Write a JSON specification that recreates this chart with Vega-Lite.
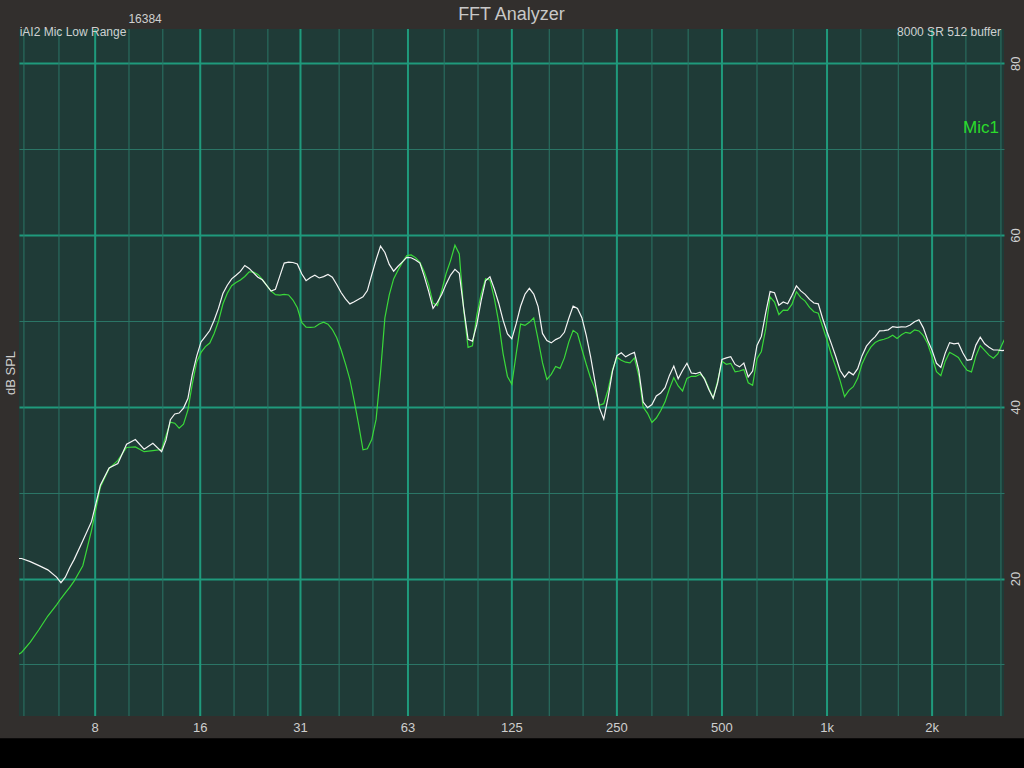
{
  "$schema": "https://vega.github.io/schema/vega-lite/v6.json",
  "width": 985,
  "height": 687,
  "autosize": "none",
  "padding": {"left": 19, "top": 29, "right": 20, "bottom": 52},
  "background": "#322f2d",
  "config": {
    "font": "Liberation Sans",
    "view": {"fill": "#1f3b37", "stroke": null}
  },
  "datasets": {
    "minorGrid": [
      {"f": 5}, {"f": 6.3}, {"f": 10}, {"f": 12.5}, {"f": 20}, {"f": 25}, {"f": 40}, {"f": 50},
      {"f": 80}, {"f": 100}, {"f": 160}, {"f": 200}, {"f": 315}, {"f": 400}, {"f": 630}, {"f": 800},
      {"f": 1250}, {"f": 1600}, {"f": 2500}, {"f": 3150}
    ],
    "majorGrid": [
      {"f": 8, "label": "8"}, {"f": 16, "label": "16"}, {"f": 31, "label": "31"}, {"f": 63, "label": "63"},
      {"f": 125, "label": "125"}, {"f": 250, "label": "250"}, {"f": 500, "label": "500"},
      {"f": 1000, "label": "1k"}, {"f": 2000, "label": "2k"}
    ],
    "spectrum": [
      {"f": 4.781, "ref": 22.34, "mic1": 11.08},
      {"f": 4.922, "ref": 22.34, "mic1": 11.40},
      {"f": 5.214, "ref": 21.98, "mic1": 12.60},
      {"f": 5.524, "ref": 21.51, "mic1": 14.07},
      {"f": 5.853, "ref": 21.02, "mic1": 15.64},
      {"f": 6.201, "ref": 20.17, "mic1": 16.95},
      {"f": 6.383, "ref": 19.52, "mic1": 17.68},
      {"f": 6.570, "ref": 20.16, "mic1": 18.35},
      {"f": 6.762, "ref": 21.27, "mic1": 18.97},
      {"f": 6.960, "ref": 22.21, "mic1": 19.70},
      {"f": 7.374, "ref": 24.40, "mic1": 21.50},
      {"f": 7.8125, "ref": 26.66, "mic1": 25.64},
      {"f": 8.277, "ref": 30.87, "mic1": 30.65},
      {"f": 8.769, "ref": 32.89, "mic1": 32.82},
      {"f": 9.291, "ref": 33.40, "mic1": 33.77},
      {"f": 9.843, "ref": 35.64, "mic1": 35.27},
      {"f": 10.428, "ref": 36.19, "mic1": 35.33},
      {"f": 11.049, "ref": 35.07, "mic1": 34.78},
      {"f": 11.706, "ref": 35.75, "mic1": 34.91},
      {"f": 12.402, "ref": 34.77, "mic1": 35.03},
      {"f": 12.765, "ref": 36.12, "mic1": 36.65},
      {"f": 13.139, "ref": 38.51, "mic1": 38.22},
      {"f": 13.524, "ref": 39.17, "mic1": 38.10},
      {"f": 13.920, "ref": 39.28, "mic1": 37.52},
      {"f": 14.328, "ref": 39.86, "mic1": 37.98},
      {"f": 14.748, "ref": 40.96, "mic1": 39.62},
      {"f": 15.180, "ref": 43.76, "mic1": 42.64},
      {"f": 15.625, "ref": 45.88, "mic1": 45.21},
      {"f": 16.083, "ref": 47.56, "mic1": 46.34},
      {"f": 16.554, "ref": 48.22, "mic1": 47.02},
      {"f": 17.039, "ref": 48.89, "mic1": 47.43},
      {"f": 17.538, "ref": 50.09, "mic1": 48.55},
      {"f": 18.052, "ref": 51.49, "mic1": 49.98},
      {"f": 18.581, "ref": 53.19, "mic1": 51.97},
      {"f": 19.126, "ref": 54.16, "mic1": 53.22},
      {"f": 19.686, "ref": 54.91, "mic1": 54.11},
      {"f": 20.263, "ref": 55.33, "mic1": 54.48},
      {"f": 20.857, "ref": 55.78, "mic1": 54.78},
      {"f": 21.468, "ref": 56.46, "mic1": 55.18},
      {"f": 22.097, "ref": 56.12, "mic1": 55.73},
      {"f": 22.744, "ref": 55.60, "mic1": 55.69},
      {"f": 23.411, "ref": 55.10, "mic1": 55.42},
      {"f": 24.097, "ref": 54.80, "mic1": 54.85},
      {"f": 24.803, "ref": 54.15, "mic1": 54.15},
      {"f": 25.530, "ref": 53.49, "mic1": 53.49},
      {"f": 26.278, "ref": 53.70, "mic1": 53.06},
      {"f": 27.048, "ref": 55.22, "mic1": 53.00},
      {"f": 27.841, "ref": 56.74, "mic1": 53.10},
      {"f": 28.657, "ref": 56.86, "mic1": 53.03},
      {"f": 29.496, "ref": 56.81, "mic1": 52.44},
      {"f": 30.361, "ref": 56.63, "mic1": 51.54},
      {"f": 31.25, "ref": 55.49, "mic1": 49.84},
      {"f": 32.166, "ref": 54.70, "mic1": 49.28},
      {"f": 33.108, "ref": 55.07, "mic1": 49.25},
      {"f": 34.078, "ref": 55.33, "mic1": 49.30},
      {"f": 35.077, "ref": 55.01, "mic1": 49.64},
      {"f": 36.105, "ref": 55.17, "mic1": 49.87},
      {"f": 37.163, "ref": 55.42, "mic1": 49.63},
      {"f": 38.252, "ref": 55.10, "mic1": 49.00},
      {"f": 39.373, "ref": 54.25, "mic1": 48.04},
      {"f": 40.526, "ref": 53.31, "mic1": 46.65},
      {"f": 41.714, "ref": 52.57, "mic1": 45.01},
      {"f": 42.937, "ref": 51.99, "mic1": 43.19},
      {"f": 44.194, "ref": 52.24, "mic1": 40.68},
      {"f": 45.489, "ref": 52.53, "mic1": 37.97},
      {"f": 46.822, "ref": 52.81, "mic1": 34.99},
      {"f": 48.194, "ref": 53.54, "mic1": 35.12},
      {"f": 49.606, "ref": 55.38, "mic1": 36.19},
      {"f": 51.060, "ref": 57.15, "mic1": 38.57},
      {"f": 52.556, "ref": 58.72, "mic1": 43.98},
      {"f": 54.096, "ref": 57.97, "mic1": 50.36},
      {"f": 55.681, "ref": 56.59, "mic1": 53.05},
      {"f": 57.313, "ref": 55.80, "mic1": 54.90},
      {"f": 58.992, "ref": 56.37, "mic1": 55.91},
      {"f": 60.721, "ref": 56.89, "mic1": 56.82},
      {"f": 62.5, "ref": 57.40, "mic1": 57.62},
      {"f": 64.331, "ref": 57.36, "mic1": 57.69},
      {"f": 66.216, "ref": 57.11, "mic1": 57.38},
      {"f": 68.157, "ref": 56.75, "mic1": 56.82},
      {"f": 70.154, "ref": 55.19, "mic1": 55.70},
      {"f": 72.209, "ref": 53.44, "mic1": 54.21},
      {"f": 74.326, "ref": 51.46, "mic1": 52.08},
      {"f": 76.504, "ref": 52.18, "mic1": 51.80},
      {"f": 78.745, "ref": 53.10, "mic1": 53.55},
      {"f": 81.053, "ref": 54.32, "mic1": 55.54},
      {"f": 83.428, "ref": 55.35, "mic1": 57.03},
      {"f": 85.873, "ref": 56.02, "mic1": 58.82},
      {"f": 88.388, "ref": 55.54, "mic1": 57.81},
      {"f": 90.978, "ref": 51.50, "mic1": 51.31},
      {"f": 93.644, "ref": 47.86, "mic1": 46.93},
      {"f": 96.388, "ref": 47.65, "mic1": 47.11},
      {"f": 99.213, "ref": 49.60, "mic1": 50.68},
      {"f": 102.12, "ref": 52.39, "mic1": 53.15},
      {"f": 105.11, "ref": 54.69, "mic1": 54.91},
      {"f": 108.19, "ref": 55.15, "mic1": 54.78},
      {"f": 111.36, "ref": 53.72, "mic1": 52.63},
      {"f": 114.63, "ref": 52.07, "mic1": 49.87},
      {"f": 117.98, "ref": 50.09, "mic1": 46.20},
      {"f": 121.44, "ref": 48.50, "mic1": 43.54},
      {"f": 125, "ref": 47.92, "mic1": 42.64},
      {"f": 128.66, "ref": 49.69, "mic1": 46.19},
      {"f": 132.43, "ref": 51.71, "mic1": 49.64},
      {"f": 136.31, "ref": 53.12, "mic1": 49.48},
      {"f": 140.31, "ref": 53.80, "mic1": 49.84},
      {"f": 144.42, "ref": 53.13, "mic1": 50.36},
      {"f": 148.65, "ref": 51.67, "mic1": 47.86},
      {"f": 153.01, "ref": 48.55, "mic1": 45.14},
      {"f": 157.49, "ref": 47.73, "mic1": 43.19},
      {"f": 162.11, "ref": 47.45, "mic1": 43.79},
      {"f": 166.86, "ref": 47.83, "mic1": 44.71},
      {"f": 171.75, "ref": 48.06, "mic1": 44.48},
      {"f": 176.78, "ref": 48.68, "mic1": 45.70},
      {"f": 181.96, "ref": 50.29, "mic1": 47.54},
      {"f": 187.29, "ref": 51.73, "mic1": 48.91},
      {"f": 192.78, "ref": 51.46, "mic1": 48.54},
      {"f": 198.43, "ref": 50.39, "mic1": 46.71},
      {"f": 204.24, "ref": 48.32, "mic1": 44.96},
      {"f": 210.22, "ref": 45.82, "mic1": 43.33},
      {"f": 216.38, "ref": 42.91, "mic1": 42.12},
      {"f": 222.73, "ref": 39.88, "mic1": 40.19},
      {"f": 229.25, "ref": 38.57, "mic1": 40.37},
      {"f": 235.97, "ref": 41.14, "mic1": 42.02},
      {"f": 242.88, "ref": 44.15, "mic1": 44.32},
      {"f": 250, "ref": 45.96, "mic1": 45.78},
      {"f": 257.33, "ref": 46.29, "mic1": 45.42},
      {"f": 264.87, "ref": 45.82, "mic1": 45.20},
      {"f": 272.63, "ref": 46.12, "mic1": 45.13},
      {"f": 280.62, "ref": 46.34, "mic1": 45.70},
      {"f": 288.84, "ref": 44.24, "mic1": 43.62},
      {"f": 297.30, "ref": 40.56, "mic1": 39.98},
      {"f": 306.02, "ref": 39.90, "mic1": 39.25},
      {"f": 314.98, "ref": 40.27, "mic1": 38.19},
      {"f": 324.21, "ref": 41.26, "mic1": 38.70},
      {"f": 333.71, "ref": 41.60, "mic1": 39.55},
      {"f": 343.49, "ref": 42.24, "mic1": 40.58},
      {"f": 353.55, "ref": 43.66, "mic1": 42.10},
      {"f": 363.91, "ref": 44.75, "mic1": 43.40},
      {"f": 374.58, "ref": 43.28, "mic1": 42.43},
      {"f": 385.55, "ref": 44.23, "mic1": 41.85},
      {"f": 396.85, "ref": 45.08, "mic1": 43.32},
      {"f": 408.48, "ref": 43.94, "mic1": 43.56},
      {"f": 420.45, "ref": 43.86, "mic1": 43.54},
      {"f": 432.77, "ref": 44.04, "mic1": 43.81},
      {"f": 445.45, "ref": 43.23, "mic1": 43.35},
      {"f": 458.50, "ref": 42.03, "mic1": 42.18},
      {"f": 471.94, "ref": 41.01, "mic1": 41.01},
      {"f": 485.77, "ref": 42.76, "mic1": 42.99},
      {"f": 500, "ref": 45.53, "mic1": 45.30},
      {"f": 514.65, "ref": 45.71, "mic1": 44.96},
      {"f": 529.73, "ref": 45.85, "mic1": 45.07},
      {"f": 545.26, "ref": 44.94, "mic1": 44.08},
      {"f": 561.23, "ref": 44.66, "mic1": 44.17},
      {"f": 577.68, "ref": 45.10, "mic1": 44.34},
      {"f": 594.61, "ref": 43.49, "mic1": 42.80},
      {"f": 612.03, "ref": 44.17, "mic1": 42.50},
      {"f": 629.96, "ref": 47.16, "mic1": 45.61},
      {"f": 648.42, "ref": 48.20, "mic1": 46.45},
      {"f": 667.42, "ref": 50.97, "mic1": 49.10},
      {"f": 686.99, "ref": 53.42, "mic1": 52.80},
      {"f": 707.11, "ref": 53.29, "mic1": 52.20},
      {"f": 727.83, "ref": 51.83, "mic1": 50.75},
      {"f": 749.16, "ref": 52.22, "mic1": 51.26},
      {"f": 771.11, "ref": 52.01, "mic1": 51.23},
      {"f": 793.70, "ref": 53.00, "mic1": 51.96},
      {"f": 816.96, "ref": 54.08, "mic1": 53.41},
      {"f": 840.90, "ref": 53.50, "mic1": 52.72},
      {"f": 865.54, "ref": 53.10, "mic1": 52.32},
      {"f": 890.90, "ref": 52.52, "mic1": 51.58},
      {"f": 917.01, "ref": 52.09, "mic1": 51.07},
      {"f": 943.88, "ref": 51.99, "mic1": 50.90},
      {"f": 971.53, "ref": 50.29, "mic1": 49.33},
      {"f": 1000, "ref": 48.74, "mic1": 47.77},
      {"f": 1029.3, "ref": 47.33, "mic1": 46.07},
      {"f": 1059.5, "ref": 45.86, "mic1": 44.64},
      {"f": 1090.5, "ref": 44.23, "mic1": 43.03},
      {"f": 1122.5, "ref": 43.46, "mic1": 41.20},
      {"f": 1155.4, "ref": 44.07, "mic1": 41.92},
      {"f": 1189.2, "ref": 43.73, "mic1": 42.35},
      {"f": 1224.1, "ref": 44.45, "mic1": 43.32},
      {"f": 1259.9, "ref": 45.96, "mic1": 45.00},
      {"f": 1296.8, "ref": 47.07, "mic1": 46.10},
      {"f": 1334.8, "ref": 47.68, "mic1": 46.95},
      {"f": 1374.0, "ref": 48.18, "mic1": 47.49},
      {"f": 1414.2, "ref": 48.84, "mic1": 47.75},
      {"f": 1455.7, "ref": 48.88, "mic1": 47.87},
      {"f": 1498.3, "ref": 48.97, "mic1": 48.05},
      {"f": 1542.2, "ref": 49.35, "mic1": 48.33},
      {"f": 1587.4, "ref": 49.25, "mic1": 47.97},
      {"f": 1633.9, "ref": 49.32, "mic1": 48.40},
      {"f": 1681.8, "ref": 49.30, "mic1": 48.68},
      {"f": 1731.1, "ref": 49.53, "mic1": 48.57},
      {"f": 1781.8, "ref": 49.91, "mic1": 48.97},
      {"f": 1834.0, "ref": 50.15, "mic1": 48.84},
      {"f": 1887.7, "ref": 49.20, "mic1": 48.29},
      {"f": 1943.1, "ref": 47.75, "mic1": 47.35},
      {"f": 2000, "ref": 46.58, "mic1": 45.80},
      {"f": 2058.6, "ref": 45.07, "mic1": 44.10},
      {"f": 2118.9, "ref": 44.60, "mic1": 43.63},
      {"f": 2181.0, "ref": 46.26, "mic1": 45.32},
      {"f": 2244.9, "ref": 47.48, "mic1": 46.35},
      {"f": 2310.7, "ref": 47.33, "mic1": 46.07},
      {"f": 2378.4, "ref": 47.42, "mic1": 45.75},
      {"f": 2448.1, "ref": 46.29, "mic1": 44.93},
      {"f": 2519.8, "ref": 45.42, "mic1": 44.25},
      {"f": 2593.7, "ref": 45.52, "mic1": 44.07},
      {"f": 2669.7, "ref": 47.19, "mic1": 45.91},
      {"f": 2747.9, "ref": 48.11, "mic1": 47.13},
      {"f": 2828.4, "ref": 47.34, "mic1": 46.57},
      {"f": 2911.3, "ref": 46.94, "mic1": 46.02},
      {"f": 2996.6, "ref": 46.62, "mic1": 45.67},
      {"f": 3084.4, "ref": 46.62, "mic1": 46.16},
      {"f": 3174.8, "ref": 46.55, "mic1": 47.29},
      {"f": 3267.8, "ref": 46.60, "mic1": 48.35}
    ]
  },
  "layer": [
    {
      "data": {"name": "minorGrid"},
      "mark": {"type": "rule", "color": "#2b7566", "strokeWidth": 1},
      "encoding": {
        "x": {"field": "f", "type": "quantitative", "scale": {"type": "log", "domain": [4.84, 3214], "nice": false}, "axis": null}
      }
    },
    {
      "data": {"name": "majorGrid"},
      "mark": {"type": "rule", "color": "#1f9a7c", "strokeWidth": 2},
      "encoding": {
        "x": {"field": "f", "type": "quantitative", "axis": null}
      }
    },
    {
      "data": {"name": "spectrum"},
      "mark": {"type": "line", "color": "#3ad83a", "strokeWidth": 1.2, "clip": true},
      "encoding": {
        "x": {"field": "f", "type": "quantitative", "axis": null},
        "y": {
          "field": "mic1", "type": "quantitative",
          "scale": {"domain": [4, 84], "nice": false, "zero": false},
          "axis": {
            "orient": "left", "title": "dB SPL", "titleColor": "#cfcfcf", "titleFontSize": 13,
            "titleFontWeight": "normal", "titlePadding": 2,
            "labels": false, "ticks": false, "tickSize": 0, "domain": false, "grid": false
          }
        }
      }
    },
    {
      "data": {"name": "spectrum"},
      "mark": {"type": "line", "color": "#f4f4f4", "strokeWidth": 1.2, "clip": true},
      "encoding": {
        "x": {"field": "f", "type": "quantitative", "axis": null},
        "y": {
          "field": "ref", "type": "quantitative",
          "axis": {
            "orient": "right", "title": null,
            "values": [10, 20, 30, 40, 50, 60, 70, 80],
            "labelExpr": "datum.value % 20 == 0 ? datum.label : ''",
            "labelAngle": 270, "labelAlign": "center", "labelBaseline": "middle",
            "labelPadding": 11, "labelColor": "#cfcfcf", "labelFontSize": 13,
            "labelOverlap": false, "labelFlush": false, "labelBound": false,
            "ticks": false, "tickSize": 0, "domain": false,
            "grid": true,
            "gridColor": {"condition": {"test": "datum.value % 20 == 0", "value": "#1f9a7c"}, "value": "#2b7566"},
            "gridWidth": {"condition": {"test": "datum.value % 20 == 0", "value": 2}, "value": 1}
          }
        }
      }
    },
    {
      "data": {"name": "majorGrid"},
      "mark": {"type": "text", "align": "center", "baseline": "middle", "fontSize": 13, "color": "#cfcfcf"},
      "encoding": {
        "x": {"field": "f", "type": "quantitative", "axis": null},
        "y": {"datum": 2.55, "type": "quantitative", "axis": null},
        "text": {"field": "label"}
      }
    },
    {
      "data": {"values": [{"label": "FFT Analyzer"}]},
      "mark": {"type": "text", "align": "center", "baseline": "middle", "fontSize": 18, "color": "#c8c8c8"},
      "encoding": {
        "x": {"datum": 124.7, "type": "quantitative", "axis": null},
        "y": {"datum": 85.63, "type": "quantitative", "axis": null},
        "text": {"field": "label"}
      }
    },
    {
      "data": {"values": [{"label": "16384"}]},
      "mark": {"type": "text", "align": "center", "baseline": "middle", "fontSize": 12, "color": "#d0d0d0"},
      "encoding": {
        "x": {"datum": 11.12, "type": "quantitative", "axis": null},
        "y": {"datum": 85.2, "type": "quantitative", "axis": null},
        "text": {"field": "label"}
      }
    },
    {
      "data": {"values": [{"label": "iAI2 Mic Low Range"}]},
      "mark": {"type": "text", "align": "left", "baseline": "middle", "fontSize": 12, "color": "#d0d0d0"},
      "encoding": {
        "x": {"datum": 4.86, "type": "quantitative", "axis": null},
        "y": {"datum": 83.6, "type": "quantitative", "axis": null},
        "text": {"field": "label"}
      }
    },
    {
      "data": {"values": [{"label": "8000 SR 512 buffer"}]},
      "mark": {"type": "text", "align": "right", "baseline": "middle", "fontSize": 12, "color": "#d0d0d0"},
      "encoding": {
        "x": {"datum": 3150, "type": "quantitative", "axis": null},
        "y": {"datum": 83.6, "type": "quantitative", "axis": null},
        "text": {"field": "label"}
      }
    },
    {
      "data": {"values": [{"label": "Mic1"}]},
      "mark": {"type": "text", "align": "right", "baseline": "middle", "fontSize": 17, "color": "#2bdc2b"},
      "encoding": {
        "x": {"datum": 3110, "type": "quantitative", "axis": null},
        "y": {"datum": 72.5, "type": "quantitative", "axis": null},
        "text": {"field": "label"}
      }
    },
    {
      "data": {"values": [{"band": "bezel"}]},
      "mark": {"type": "rect", "color": "#000000", "clip": false},
      "encoding": {
        "x": {"datum": 1, "type": "quantitative", "axis": null},
        "x2": {"datum": 100000},
        "y": {"datum": 1.4, "type": "quantitative", "axis": null},
        "y2": {"datum": -20}
      }
    }
  ],
  "resolve": {"axis": {"y": "independent"}}
}
